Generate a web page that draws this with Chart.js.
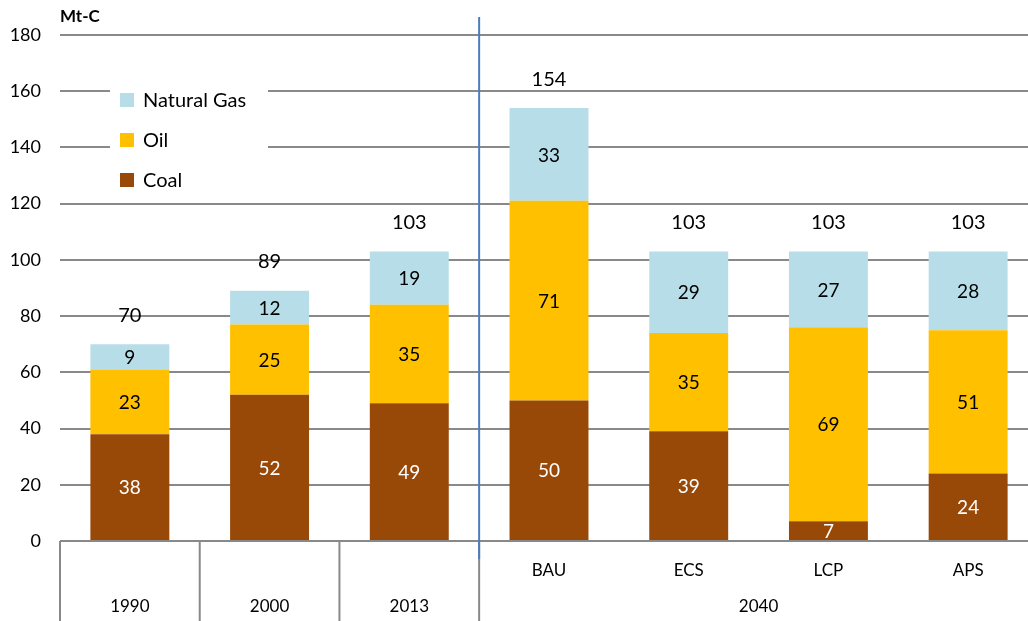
<!DOCTYPE html>
<html>
<head>
<meta charset="utf-8">
<script src="https://cdn.jsdelivr.net/npm/chart.js@4.4.1/dist/chart.umd.min.js"></script>
<style>
  html, body { margin:0; padding:0; background:#fff; overflow:hidden; }
  #wrap { width:1040px; height:621px; position:relative; }
</style>
</head>
<body>
<div id="wrap"><canvas id="chart"></canvas></div>
<script>
// chart data
const categories = ["1990", "2000", "2013", "BAU", "ECS", "LCP", "APS"];
const groups = [
    { label: "1990", from: 0, to: 0 },
    { label: "2000", from: 1, to: 1 },
    { label: "2013", from: 2, to: 2 },
    { label: "2040", from: 3, to: 6 }
];
const coal = [38, 52, 49, 50, 39, 7, 24];
const oil = [23, 25, 35, 71, 35, 69, 51];
const gas = [9, 12, 19, 33, 29, 27, 28];
const totals = [70, 89, 103, 154, 103, 103, 103];
const yTicks = [0, 20, 40, 60, 80, 100, 120, 140, 160, 180];

const FONT = "Lato, 'Open Sans', sans-serif";
const GRID = "#898989";

const series = [
    { label: "Coal", data: coal, color: "#984807", text: "#ffffff" },
    { label: "Oil", data: oil, color: "#ffc000", text: "#000000" },
    { label: "Natural Gas", data: gas, color: "#b7dee8", text: "#000000" }
];

const extras = {
    id: "extras",
    afterDraw(chart){
        const ctx = chart.ctx;
        const x = chart.scales.x, y = chart.scales.y;
        const area = chart.chartArea;
        const step = x.getPixelForValue(1) - x.getPixelForValue(0);
        ctx.save();

        // segment labels
        ctx.textAlign = "center";
        ctx.textBaseline = "middle";
        ctx.font = "19px " + FONT;
        series.forEach((s, di) => {
            const meta = chart.getDatasetMeta(di);
            meta.data.forEach((bar, i) => {
                ctx.fillStyle = s.text;
                ctx.fillText(s.data[i], bar.x, (bar.y + bar.base) / 2 + 1);
            });
        });

        // totals
        ctx.fillStyle = "#000";
        ctx.font = "20px " + FONT;
        totals.forEach((t, i) => {
            ctx.fillText(t, x.getPixelForValue(i), y.getPixelForValue(t) - 29);
        });

        // unit label
        ctx.font = "bold 17px " + FONT;
        ctx.textAlign = "left";
        ctx.fillText("Mt-C", area.left, 17);

        // category separators below the axis
        ctx.strokeStyle = GRID;
        ctx.lineWidth = 2;
        groups.forEach(g => {
            const gx = x.getPixelForValue(g.from) - step / 2;
            ctx.beginPath();
            ctx.moveTo(gx, area.bottom);
            ctx.lineTo(gx, chart.height);
            ctx.stroke();
        });

        // x labels, two rows
        ctx.fillStyle = "#000";
        ctx.font = "17px " + FONT;
        ctx.textAlign = "center";
        groups.forEach(g => {
            if (g.to > g.from) {
                for (let i = g.from; i <= g.to; i++) {
                    ctx.fillText(categories[i], x.getPixelForValue(i), area.bottom + 30);
                }
            }
            const cx = (x.getPixelForValue(g.from) + x.getPixelForValue(g.to)) / 2;
            ctx.fillText(g.label, cx, area.bottom + 66);
        });

        // blue divider between history and 2040
        const dx = x.getPixelForValue(3) - step / 2;
        ctx.strokeStyle = "#4a7ebb";
        ctx.lineWidth = 2;
        ctx.beginPath();
        ctx.moveTo(dx, 17);
        ctx.lineTo(dx, area.bottom + 18);
        ctx.stroke();

        // legend
        ctx.fillStyle = "#fff";
        ctx.fillRect(110, 84, 158, 110);
        ctx.font = "20px " + FONT;
        ctx.textAlign = "left";
        [series[2], series[1], series[0]].forEach((s, k) => {
            const ly = 100 + k * 40;
            ctx.fillStyle = s.color;
            ctx.fillRect(120, ly - 7, 14, 14);
            ctx.fillStyle = "#000";
            ctx.fillText(s.label, 143, ly + 1);
        });

        ctx.restore();
    }
};

new Chart(document.getElementById("chart"), {
    type: "bar",
    data: {
        labels: categories,
        datasets: series.map(s => ({
            label: s.label,
            data: s.data,
            backgroundColor: s.color,
            barPercentage: 0.565,
            categoryPercentage: 1
        }))
    },
    options: {
        responsive: true,
        maintainAspectRatio: false,
        animation: false,
        layout: { padding: { top: 35, bottom: 80, left: 0, right: 2 } },
        plugins: { legend: { display: false }, tooltip: { enabled: false } },
        scales: {
            x: { stacked: true, display: false },
            y: {
                stacked: true,
                min: 0,
                max: 180,
                afterBuildTicks: (scale) => { scale.ticks = yTicks.map(v => ({ value: v })); },
                afterFit: (scale) => { scale.width = 60; },
                border: { display: false },
                grid: { color: GRID, lineWidth: 2, drawTicks: false },
                ticks: { color: "#000", padding: 19, font: { family: FONT, size: 18 } }
            }
        }
    },
    plugins: [extras]
});
</script>
</body>
</html>
